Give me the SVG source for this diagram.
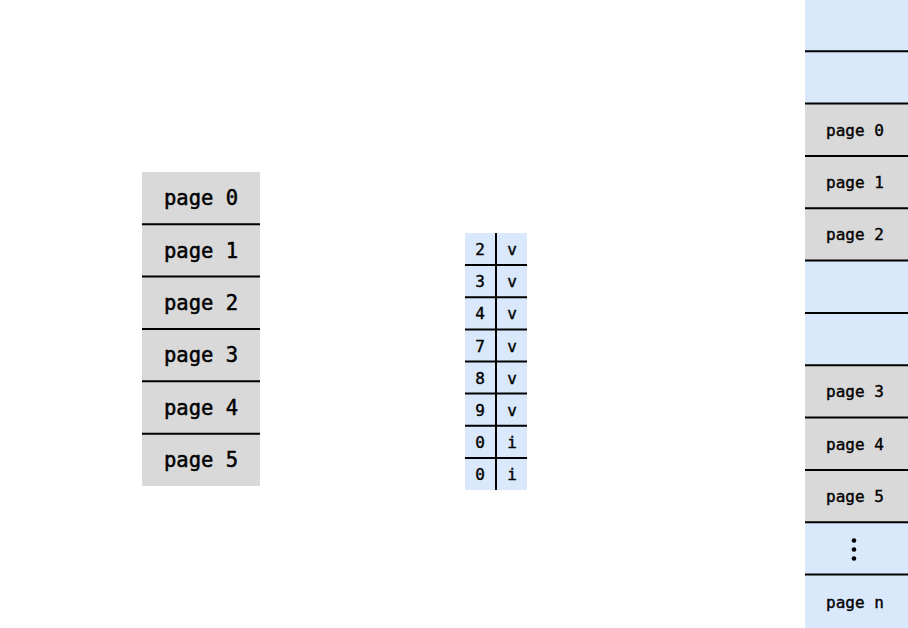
<svg xmlns="http://www.w3.org/2000/svg" width="908" height="628" viewBox="0 0 908 628">
<style>
.g{fill:#d9d9d9}
.b{fill:#dae8fc}
.ln{stroke:#000;stroke-width:2;fill:none}
.t{font-family:"DejaVu Sans Mono","Liberation Mono",monospace;fill:#000;stroke:#000;stroke-width:0.5;text-anchor:middle;dominant-baseline:central}
.l{font-size:20.5px}
.m{font-size:16px;stroke-width:0.4}
.r{font-size:16px;stroke-width:0.4}
</style>
<rect width="908" height="628" fill="#fff"/>
<g id="virtual">
<g id="v0"><rect class="g" x="142" y="172" width="118" height="52.3"/><text class="t l" x="201" y="198.2">page 0</text></g>
<g id="v1"><rect class="g" x="142" y="224.3" width="118" height="52.3"/><text class="t l" x="201" y="250.5">page 1</text></g>
<g id="v2"><rect class="g" x="142" y="276.6" width="118" height="52.4"/><text class="t l" x="201" y="302.8">page 2</text></g>
<g id="v3"><rect class="g" x="142" y="329" width="118" height="52.3"/><text class="t l" x="201" y="355.2">page 3</text></g>
<g id="v4"><rect class="g" x="142" y="381.3" width="118" height="52.4"/><text class="t l" x="201" y="407.5">page 4</text></g>
<g id="v5"><rect class="g" x="142" y="433.7" width="118" height="52.3"/><text class="t l" x="201" y="459.8">page 5</text></g>
<path class="ln" d="M142 224.3H260M142 276.6H260M142 329H260M142 381.3H260M142 433.7H260"/>
</g>
<g id="table">
<rect class="b" x="465" y="233" width="62" height="257"/>
<path class="ln" d="M496 233V490M465 265.1H527M465 297.3H527M465 329.4H527M465 361.5H527M465 393.6H527M465 425.8H527M465 457.9H527"/>
<text class="t m" x="480" y="249.5">2</text><text class="t m" x="512" y="249.5">v</text>
<text class="t m" x="480" y="281.7">3</text><text class="t m" x="512" y="281.7">v</text>
<text class="t m" x="480" y="313.8">4</text><text class="t m" x="512" y="313.8">v</text>
<text class="t m" x="480" y="346">7</text><text class="t m" x="512" y="346">v</text>
<text class="t m" x="480" y="378.1">8</text><text class="t m" x="512" y="378.1">v</text>
<text class="t m" x="480" y="410.2">9</text><text class="t m" x="512" y="410.2">v</text>
<text class="t m" x="480" y="442.4">0</text><text class="t m" x="512" y="442.4">i</text>
<text class="t m" x="480" y="474.5">0</text><text class="t m" x="512" y="474.5">i</text>
</g>
<g id="physical">
<g id="p0"><rect class="b" x="805" y="-1" width="103" height="52.3"/></g>
<g id="p1"><rect class="b" x="805" y="51.3" width="103" height="52.3"/></g>
<g id="p2"><rect class="g" x="805" y="103.6" width="103" height="52.4"/><text class="t r" x="855" y="130">page 0</text></g>
<g id="p3"><rect class="g" x="805" y="156" width="103" height="52.3"/><text class="t r" x="855" y="182.4">page 1</text></g>
<g id="p4"><rect class="g" x="805" y="208.3" width="103" height="52.3"/><text class="t r" x="855" y="234.8">page 2</text></g>
<g id="p5"><rect class="b" x="805" y="260.6" width="103" height="52.4"/></g>
<g id="p6"><rect class="b" x="805" y="313" width="103" height="52.3"/></g>
<g id="p7"><rect class="g" x="805" y="365.3" width="103" height="52.3"/><text class="t r" x="855" y="391.8">page 3</text></g>
<g id="p8"><rect class="g" x="805" y="417.6" width="103" height="52.4"/><text class="t r" x="855" y="444.1">page 4</text></g>
<g id="p9"><rect class="g" x="805" y="470" width="103" height="52.3"/><text class="t r" x="855" y="496.4">page 5</text></g>
<g id="p10"><rect class="b" x="805" y="522.3" width="103" height="52.3"/><circle cx="854" cy="540.5" r="2.3"/><circle cx="854" cy="549.5" r="2.3"/><circle cx="854" cy="558.5" r="2.3"/></g>
<g id="p11"><rect class="b" x="805" y="574.6" width="103" height="54"/><text class="t r" x="855" y="602.3">page n</text></g>
<path class="ln" d="M805 51.3H908M805 103.6H908M805 156H908M805 208.3H908M805 260.6H908M805 313H908M805 365.3H908M805 417.6H908M805 470H908M805 522.3H908M805 574.6H908"/>
</g>
</svg>
